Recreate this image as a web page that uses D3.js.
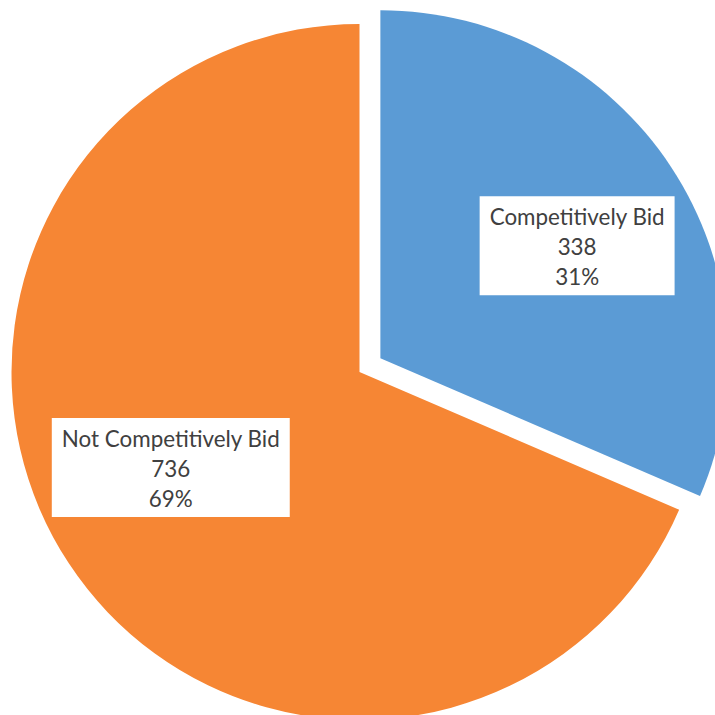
<!DOCTYPE html>
<html>
<head>
<meta charset="utf-8">
<script src="https://cdn.jsdelivr.net/npm/d3@7"></script>
<style>
  html, body { margin: 0; padding: 0; background: #fff; overflow: hidden; }
  svg { display: block; }
</style>
</head>
<body>
<svg id="chart" width="715" height="715"></svg>
<script>
const categories = ["Competitively Bid", "Not Competitively Bid"];
const values = [338, 736];
const colors = ["#5B9BD5", "#F68634"];

const W = 715, H = 715;
const cx = 359.5, cy = 372, R = 348;
const explode = 25;
const labelR = 219;
const labelShift = 5 * Math.PI / 180;
const labelNudgeX = 4, labelNudgeY = -8;
const lineH = 30;
const fontSize = 22.4;

const svg = d3.select("#chart");
const total = d3.sum(values);
const data = categories.map((c, i) => ({ name: c, value: values[i], color: colors[i] }));

const pie = d3.pie().value(d => d.value).sort(null);
const arcs = pie(data);
const arc = d3.arc().innerRadius(0).outerRadius(R);

const g = svg.append("g").attr("transform", `translate(${cx},${cy})`);

arcs.forEach((a, i) => {
  const mid = (a.startAngle + a.endAngle) / 2;
  const off = i === 0 ? explode : 0;
  const ox = off * Math.sin(mid), oy = -off * Math.cos(mid);
  const sg = g.append("g").attr("transform", `translate(${ox},${oy})`);
  sg.append("path").attr("d", arc(a)).attr("fill", a.data.color);

  const la = mid + labelShift;
  const lx = labelR * Math.sin(la) + labelNudgeX, ly = -labelR * Math.cos(la) + labelNudgeY;
  const lg = sg.append("g").attr("transform", `translate(${lx},${ly})`);
  const lines = [a.data.name, String(a.data.value), d3.format(".0%")(a.data.value / total)];
  const rect = lg.append("rect").attr("fill", "#fff");
  let maxW = 0;
  lines.forEach((t, j) => {
    const tx = lg.append("text")
      .attr("x", 0)
      .attr("y", (j - 1) * lineH + 8.5)
      .attr("text-anchor", "middle")
      .attr("font-family", "Lato, 'Open Sans', sans-serif")
      .attr("font-size", fontSize)
      .attr("fill", "#404040")
      .text(t);
    maxW = Math.max(maxW, tx.node().getComputedTextLength());
  });
  const bw = maxW + 20, bh = 99;
  rect.attr("x", -bw / 2).attr("y", -bh / 2 - 0.5).attr("width", bw).attr("height", bh);
});
</script>
</body>
</html>
